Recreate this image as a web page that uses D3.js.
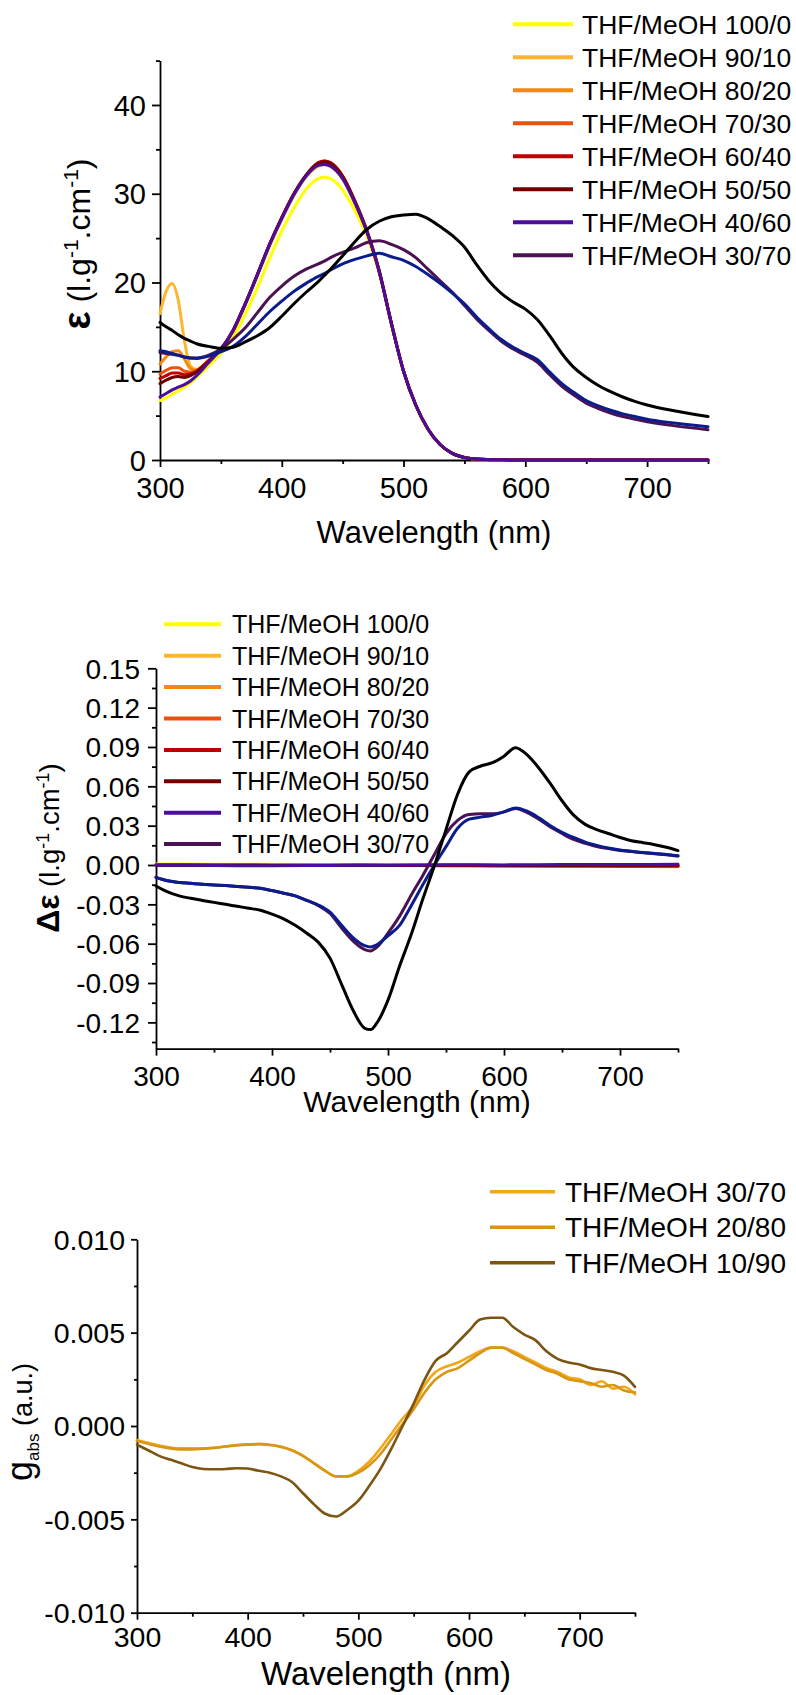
<!DOCTYPE html>
<meta charset="utf-8">
<style type="text/css">
body { margin: 0; background: #fff; }
svg { display: block; font-family: "Liberation Sans", Arial, sans-serif; }
.line { fill: none; stroke-linejoin: round; stroke-linecap: round; }
</style>
<body>
<script src="https://cdnjs.cloudflare.com/ajax/libs/d3/7.8.5/d3.min.js"></script>
<script>
// ---- data ----

// top panel: absorption, epsilon (l.g-1.cm-1)
var absWl = [300,305,310,315,320,325,330,340,350,360,370,380,390,400,410,420,430,435,440,450,460,470,480,490,500,510,520,530,540,550,560,570,580,590,600,610,620,630,640,650,660,670,680,690,700,720,750];
var abs100 = [6.7,7.0,7.4,7.8,8.2,8.7,9.3,10.6,12.0,13.8,16.4,19.4,22.7,25.8,28.4,30.5,31.7,31.85,31.7,30.4,28.1,25.2,21.0,15.4,10.0,6.1,3.4,1.7,0.7,0.27,0.1,0.04,0.02,0.01,0,0,0,0,0,0,0,0,0,0,0,0,0];
var abs90 = [16.5,19.0,19.9,18.0,13.5,10.6,10.2,11.3,12.5,14.5,17.5,20.8,24.1,27.1,29.8,31.9,33.1,33.3,33.1,31.6,28.9,25.6,21.2,15.3,10.0,6.2,3.5,1.75,0.75,0.28,0.1,0.04,0.02,0.01,0,0,0,0,0,0,0,0,0,0,0,0,0];
var abs80 = [10.8,11.6,12.2,12.3,11.4,10.3,10.1,11.2,12.5,14.5,17.5,20.8,24.2,27.2,29.9,32.0,33.2,33.4,33.2,31.7,29.0,25.7,21.2,15.4,10.0,6.2,3.5,1.75,0.75,0.28,0.1,0.04,0.02,0.01,0,0,0,0,0,0,0,0,0,0,0,0,0];
var abs70 = [9.7,10.1,10.4,10.4,10.0,9.9,10.1,11.2,12.5,14.6,17.6,20.9,24.3,27.3,30.0,32.1,33.5,33.7,33.5,32.0,29.2,25.8,21.3,15.4,10.0,6.2,3.5,1.75,0.75,0.28,0.1,0.04,0.02,0.01,0,0,0,0,0,0,0,0,0,0,0,0,0];
var abs60 = [9.2,9.5,9.8,9.8,9.6,9.7,10.0,11.2,12.5,14.6,17.6,20.9,24.3,27.3,30.0,32.1,33.5,33.7,33.5,32.0,29.2,25.8,21.3,15.4,10.0,6.2,3.5,1.75,0.75,0.28,0.1,0.04,0.02,0.01,0,0,0,0,0,0,0,0,0,0,0,0,0];
var abs50 = [8.6,9.0,9.3,9.4,9.3,9.5,9.9,11.1,12.5,14.6,17.6,20.9,24.3,27.3,30.0,32.1,33.4,33.6,33.4,31.9,29.1,25.7,21.3,15.4,10.0,6.2,3.5,1.75,0.75,0.28,0.1,0.04,0.02,0.01,0,0,0,0,0,0,0,0,0,0,0,0,0];
var abs40 = [7.1,7.5,7.9,8.2,8.5,8.9,9.5,11.0,12.5,14.6,17.6,20.9,24.3,27.2,29.9,32.0,33.2,33.3,33.1,31.7,29.0,25.7,21.2,15.4,10.0,6.2,3.5,1.75,0.75,0.28,0.1,0.04,0.02,0.01,0,0,0,0,0,0,0,0,0,0,0,0,0];
var abs30 = [12.1,12.0,11.9,11.8,11.6,11.5,11.5,11.8,12.5,13.6,14.9,16.6,18.3,19.6,20.7,21.5,22.1,22.4,22.8,23.4,23.9,24.5,24.7,24.3,23.7,22.8,21.5,20.2,18.9,17.4,15.9,14.6,13.4,12.5,11.8,11.0,9.6,8.3,7.3,6.4,5.8,5.3,4.9,4.6,4.3,3.9,3.4];
var abs20 = [12.3,12.2,12.0,11.8,11.6,11.5,11.45,11.7,12.2,12.8,13.9,15.3,16.7,17.9,19.0,19.9,20.7,21.0,21.4,22.1,22.6,23.0,23.3,22.9,22.5,21.8,20.9,19.9,18.8,17.6,16.1,14.8,13.6,12.7,12.0,11.3,9.9,8.6,7.6,6.7,6.1,5.6,5.2,4.9,4.6,4.2,3.75];
var abs10 = [15.5,15.0,14.6,14.1,13.7,13.4,13.1,12.8,12.6,12.7,13.3,14.0,14.9,16.2,17.6,18.9,20.1,20.8,21.5,23.0,24.6,26.0,26.9,27.4,27.6,27.7,27.2,26.3,25.3,24.0,22.0,20.2,18.8,17.8,17.0,15.8,14.0,12.0,10.4,9.3,8.4,7.7,7.1,6.6,6.2,5.6,4.9];

// middle panel: CD, delta epsilon (l.g-1.cm-1)
var cdWl = [300,310,320,330,340,350,360,370,380,390,400,410,420,430,440,450,460,470,480,485,490,500,510,520,530,540,550,560,570,580,590,600,610,620,630,640,650,660,670,680,690,700,710,720,730,740,750];
var cd30 = [-0.0094,-0.012,-0.0133,-0.014,-0.0147,-0.0152,-0.0157,-0.0163,-0.017,-0.0178,-0.0195,-0.0215,-0.0235,-0.027,-0.031,-0.037,-0.048,-0.058,-0.0645,-0.0655,-0.063,-0.052,-0.039,-0.023,-0.008,0.008,0.024,0.034,0.0385,0.039,0.039,0.0405,0.043,0.040,0.035,0.029,0.024,0.0195,0.0165,0.014,0.0125,0.011,0.0102,0.0093,0.0085,0.0078,0.0068];
var cd20 = [-0.0094,-0.012,-0.0133,-0.014,-0.0147,-0.0152,-0.0157,-0.0163,-0.017,-0.0178,-0.0195,-0.0215,-0.0235,-0.027,-0.0305,-0.036,-0.046,-0.0555,-0.0615,-0.0625,-0.061,-0.054,-0.046,-0.031,-0.015,0.000,0.014,0.028,0.035,0.0365,0.038,0.0405,0.0435,0.041,0.036,0.030,0.025,0.021,0.0175,0.015,0.013,0.0115,0.0105,0.0095,0.0088,0.008,0.007];
var cd10 = [-0.016,-0.0205,-0.0235,-0.0254,-0.027,-0.0285,-0.030,-0.0315,-0.033,-0.0345,-0.0375,-0.041,-0.046,-0.052,-0.059,-0.071,-0.091,-0.111,-0.1245,-0.1255,-0.121,-0.103,-0.077,-0.053,-0.026,-0.0005,0.027,0.054,0.071,0.0755,0.078,0.083,0.0895,0.084,0.074,0.062,0.049,0.038,0.031,0.027,0.024,0.021,0.0185,0.017,0.0155,0.0135,0.011];
// the solutions without CD signal, sampled more coarsely
var cdFlatWl = [300,350,400,450,500,550,600,650,700,750];
var cdFlat100 = [0.0008,0.0006,0.0005,0.0004,0.0003,0.0002,0.0001,0.0,-0.0002,-0.0003];
var cdFlat90 = [0.0003,0.0002,0.0001,0.0,-0.0002,-0.0004,-0.0006,-0.0008,-0.0010,-0.0013];
var cdFlat80 = [0.0002,0.0001,0.0,-0.0001,-0.0003,-0.0005,-0.0007,-0.0009,-0.0011,-0.0012];
var cdFlat70 = [0.0001,0.0,-0.0001,-0.0002,-0.0003,-0.0005,-0.0006,-0.0008,-0.0009,-0.0010];
var cdFlat60 = [0.0,-0.0001,-0.0002,-0.0002,-0.0003,-0.0004,-0.0005,-0.0006,-0.0007,-0.0008];
var cdFlat50 = [-0.0002,-0.0002,-0.0003,-0.0003,-0.0002,-0.0002,-0.0003,-0.0003,-0.0002,-0.0002];
var cdFlat40 = [-0.0001,-0.0004,-0.0006,-0.0003,-0.0001,0.0002,0.0001,0.0003,0.0004,0.0005];

// bottom panel: g_abs
var gWl = [300,310,320,330,340,350,360,370,380,390,400,410,420,430,440,450,460,470,480,490,500,510,520,530,540,550,560,570,580,590,600,610,620,630,640,650,660,670,680,690,700,710,720,730,740,750];
var g30 = [-0.00075,-0.0009,-0.00105,-0.00115,-0.0012,-0.0012,-0.0012,-0.00115,-0.0011,-0.00102,-0.00098,-0.00096,-0.001,-0.0011,-0.0013,-0.0016,-0.002,-0.0024,-0.0027,-0.0027,-0.0024,-0.0019,-0.0012,-0.0004,0.0004,0.0011,0.0022,0.0029,0.0032,0.0034,0.0037,0.0040,0.0042,0.0042,0.0040,0.0037,0.0034,0.0031,0.0029,0.0026,0.0025,0.0022,0.0024,0.0020,0.0021,0.0017];
var g20 = [-0.0008,-0.00095,-0.0011,-0.0012,-0.00125,-0.00125,-0.00122,-0.00118,-0.0011,-0.00104,-0.001,-0.00098,-0.00102,-0.00112,-0.0013,-0.0016,-0.002,-0.0024,-0.0027,-0.0027,-0.0025,-0.0021,-0.0015,-0.0007,0.0001,0.0009,0.0018,0.0025,0.0029,0.0031,0.0035,0.0039,0.0042,0.0042,0.0039,0.0036,0.0033,0.0030,0.0028,0.0025,0.0024,0.0023,0.0021,0.0022,0.0019,0.0018];
var g10 = [-0.001,-0.0013,-0.0016,-0.0018,-0.002,-0.0022,-0.0023,-0.00232,-0.0023,-0.00226,-0.00228,-0.0024,-0.0025,-0.0027,-0.0030,-0.0036,-0.0042,-0.0047,-0.00485,-0.0045,-0.004,-0.0032,-0.0023,-0.0012,0.0,0.0012,0.0025,0.0035,0.0039,0.0045,0.0051,0.0057,0.0058,0.0058,0.0053,0.0049,0.0046,0.0040,0.0036,0.0034,0.0033,0.0031,0.0030,0.0029,0.0027,0.0021];

// legend labels and colours
var names = ["THF/MeOH 100/0","THF/MeOH 90/10","THF/MeOH 80/20","THF/MeOH 70/30","THF/MeOH 60/40","THF/MeOH 50/50","THF/MeOH 40/60","THF/MeOH 30/70"];
var colors = ["#ffff00","#ffb62f","#f5890b","#e8530f","#c00000","#6e0000","#4b0d9c","#4a1252"];
var extraColors = ["#0b1c8c","#000000"];   // 20/80 and 10/90, not in the legend
var gNames = ["THF/MeOH 30/70","THF/MeOH 20/80","THF/MeOH 10/90"];
var gColors = ["#f2a71b","#d89614","#7b5511"];

// tick values
var xTicks = [300,400,500,600,700], xMinor = [350,450,550,650,750];
var absTicks = [0,10,20,30,40], absMinor = [5,15,25,35,45];
var cdTicks = [-0.12,-0.09,-0.06,-0.03,0,0.03,0.06,0.09,0.12,0.15];
var cdMinor = [-0.135,-0.105,-0.075,-0.045,-0.015,0.015,0.045,0.075,0.105,0.135];
var gTicks = [-0.01,-0.005,0,0.005,0.01], gMinor = [-0.0075,-0.0025,0.0025,0.0075];

// ---- drawing ----
var svg = d3.select("body").append("svg")
    .attr("width", 796)
    .attr("height", 1695);

function drawPanel(p) {
    var g = svg.append("g");
    var yBase = p.y.range()[0], xBase = p.x.range()[0];

    var xa = g.append("g").attr("transform", "translate(0," + yBase + ")")
        .call(d3.axisBottom(p.x).tickValues(xTicks).tickSize(7).tickSizeOuter(0).tickFormat(d3.format("d")));
    xa.selectAll("text").attr("y", p.xLabelY).attr("dy", 0);
    g.append("g").attr("transform", "translate(0," + yBase + ")")
        .call(d3.axisBottom(p.x).tickValues(xMinor).tickSize(4).tickSizeOuter(0).tickFormat(""))
        .select(".domain").remove();

    var ya = g.append("g").attr("transform", "translate(" + xBase + ",0)")
        .call(d3.axisLeft(p.y).tickValues(p.yTicks).tickSize(p.ySize).tickSizeOuter(0).tickFormat(p.yFormat));
    ya.selectAll("text").attr("x", -p.yLabelGap).attr("dy", "0.35em");
    g.append("g").attr("transform", "translate(" + xBase + ",0)")
        .call(d3.axisLeft(p.y).tickValues(p.yMinor).tickSize(p.ySize / 2).tickSizeOuter(0).tickFormat(""))
        .select(".domain").remove();

    g.selectAll(".domain, .tick line").attr("stroke", "#000").attr("stroke-width", 1.8);
    g.selectAll(".tick text").attr("fill", "#000");
    g.selectAll("g").attr("font-family", null).attr("font-size", p.tickFont);

    var line = d3.line()
        .defined(function(d) { return d[1] != null; })
        .x(function(d) { return p.x(d[0]); })
        .y(function(d) { return p.y(d[1]); })
        .curve(d3.curveMonotoneX);

    p.series.forEach(function(s) {
        g.append("path")
            .datum(d3.zip(s.wl, s.values))
            .attr("class", "line")
            .attr("stroke", s.color)
            .attr("stroke-width", p.lineWidth)
            .attr("d", line);
    });

    // x title
    g.append("text")
        .attr("x", (p.x.range()[0] + p.x.range()[1]) / 2)
        .attr("y", p.xTitleY)
        .attr("text-anchor", "middle")
        .attr("font-size", p.xTitleFont)
        .text("Wavelength (nm)");

    // y title, rotated, built from pieces (bold symbol, super/subscripts)
    var t = g.append("text")
        .attr("transform", "translate(" + p.yTitleX + "," + p.yTitleY + ") rotate(-90)")
        .attr("text-anchor", "middle");
    p.yTitle.forEach(function(part) {
        t.append("tspan")
            .attr("font-size", part.size)
            .attr("font-weight", part.bold ? "bold" : null)
            .attr("dy", part.dy || 0)
            .text(part.text);
    });

    // legend
    p.legend.items.forEach(function(it, i) {
        var ly = p.legend.y + i * p.legend.step;
        g.append("line")
            .attr("x1", p.legend.x1).attr("x2", p.legend.x2)
            .attr("y1", ly).attr("y2", ly)
            .attr("stroke", it.color)
            .attr("stroke-width", p.legend.width);
        g.append("text")
            .attr("x", p.legend.tx).attr("y", ly)
            .attr("dy", "0.36em")
            .attr("font-size", p.legend.font)
            .text(it.name);
    });
}

var absSeries = [abs100, abs90, abs80, abs70, abs60, abs50, abs40, abs30].map(function(v, i) {
    return { wl: absWl, values: v, color: colors[i] };
}).concat([
    { wl: absWl, values: abs20, color: extraColors[0] },
    { wl: absWl, values: abs10, color: extraColors[1] }
]);

var cdSeries = [cdFlat100, cdFlat90, cdFlat80, cdFlat70, cdFlat60, cdFlat50, cdFlat40].map(function(v, i) {
    return { wl: cdFlatWl, values: v, color: colors[i] };
}).concat([
    { wl: cdWl, values: cd30, color: colors[7] },
    { wl: cdWl, values: cd20, color: extraColors[0] },
    { wl: cdWl, values: cd10, color: extraColors[1] }
]);

var gSeries = [g30, g20, g10].map(function(v, i) {
    return { wl: gWl, values: v, color: gColors[i] };
});

var mainLegend = names.map(function(n, i) { return { name: n, color: colors[i] }; });

drawPanel({
    x: d3.scaleLinear().domain([300, 750]).range([160, 708]),
    y: d3.scaleLinear().domain([0, 45]).range([460, 60.6]),
    yTicks: absTicks, yMinor: absMinor, yFormat: d3.format("d"),
    ySize: 8, yLabelGap: 14, xLabelY: 38, tickFont: 29,
    xTitleY: 543, xTitleFont: 31,
    yTitleX: 90, yTitleY: 244,
    yTitle: [
        { text: "\u03b5", size: 38, bold: true },
        { text: " (l.g", size: 32 },
        { text: "-1", size: 21, dy: -12 },
        { text: ".cm", size: 32, dy: 12 },
        { text: "-1", size: 21, dy: -12 },
        { text: ")", size: 32, dy: 12 }
    ],
    lineWidth: 3,
    series: absSeries,
    legend: { items: mainLegend, x1: 513, x2: 573, tx: 582, y: 24.3, step: 33, font: 26.5, width: 4 }
});

drawPanel({
    x: d3.scaleLinear().domain([300, 750]).range([156, 678]),
    y: d3.scaleLinear().domain([-0.14, 0.15]).range([1048.6, 668.3]),
    yTicks: cdTicks, yMinor: cdMinor, yFormat: function(d) { return d.toFixed(2); },
    ySize: 8, yLabelGap: 16, xLabelY: 37.5, tickFont: 28,
    xTitleY: 1112, xTitleFont: 30,
    yTitleX: 59, yTitleY: 848,
    yTitle: [
        { text: "\u0394\u03b5", size: 32, bold: true },
        { text: " (l.g", size: 27.5 },
        { text: "-1", size: 18, dy: -10 },
        { text: ".cm", size: 27.5, dy: 10 },
        { text: "-1", size: 18, dy: -10 },
        { text: ")", size: 27.5, dy: 10 }
    ],
    lineWidth: 3,
    series: cdSeries,
    legend: { items: mainLegend, x1: 164, x2: 221, tx: 232, y: 624.3, step: 31.4, font: 25, width: 4 }
});

drawPanel({
    x: d3.scaleLinear().domain([300, 750]).range([137, 635]),
    y: d3.scaleLinear().domain([-0.01, 0.01]).range([1612.7, 1239.3]),
    yTicks: gTicks, yMinor: gMinor, yFormat: function(d) { return d.toFixed(3); },
    ySize: 6, yLabelGap: 12, xLabelY: 34.3, tickFont: 28.5,
    xTitleY: 1685, xTitleFont: 33,
    yTitleX: 32, yTitleY: 1422,
    yTitle: [
        { text: "g", size: 36 },
        { text: "abs", size: 17, dy: 7 },
        { text: " (a.u.)", size: 27, dy: -7 }
    ],
    lineWidth: 2.6,
    series: gSeries,
    legend: {
        items: gNames.map(function(n, i) { return { name: n, color: gColors[i] }; }),
        x1: 490, x2: 555, tx: 565, y: 1191.7, step: 35.5, font: 28, width: 3.5
    }
});
</script>
</body>
